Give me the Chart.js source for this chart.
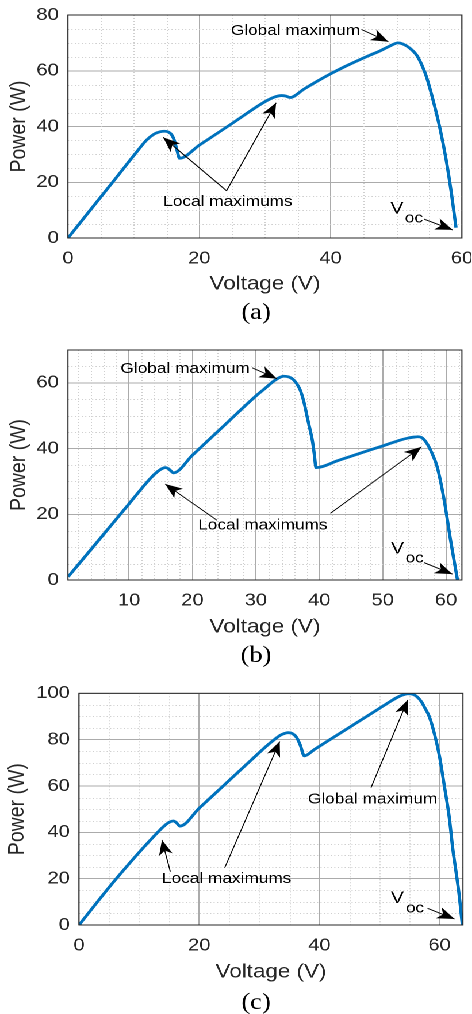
<!DOCTYPE html>
<html>
<head>
<meta charset="utf-8">
<script src="https://cdn.jsdelivr.net/npm/chart.js@4.4.1/dist/chart.umd.min.js"></script>
<style>
    html, body { margin: 0; padding: 0; background: #fff; overflow: hidden; }
    /* the source figure is stretched sideways, so draw narrow and widen */
    #page { width: 410.4px; transform: scaleX(1.15); transform-origin: 0 0; }
    .panel { position: relative; width: 100%; }
</style>
</head>
<body>
<div id="page">
    <div class="panel" style="height:338px"><canvas id="chartA"></canvas></div>
    <div class="panel" style="height:337px"><canvas id="chartB"></canvas></div>
    <div class="panel" style="height:339px"><canvas id="chartC"></canvas></div>
</div>
<script>
// P-V curves, (a) (b) (c)
const voltageA = [0, 3, 7.1, 10.4, 12, 13.2, 14, 14.7, 15.3, 15.8, 16.2, 16.6, 17.0, 20, 25, 30, 31.5, 32.5, 33.2, 33.8, 36, 38, 40, 42, 44, 46, 47.5, 48.7, 49.5, 50.2, 51, 52, 53.1, 54, 54.6, 55.6, 56.6, 57.6, 58.4, 59.1];
const powerA   = [0, 8.85, 20.9, 30.7, 35.2, 37.4, 38.1, 38.3, 38.0, 37.0, 35.0, 31.5, 28.6, 33.3, 41.1, 48.9, 50.6, 51.1, 50.9, 50.4, 53.5, 56.3, 58.9, 61.3, 63.5, 65.6, 67.1, 68.5, 69.4, 70.0, 69.6, 68.2, 65.6, 61.5, 57.8, 49.5, 39.9, 28, 16, 3.7];

const voltageB = [0.4, 5, 10, 13.5, 14.5, 15.2, 15.7, 16.2, 16.6, 17.0, 20, 25, 30, 31.5, 32.8, 33.7, 34.4, 35.2, 35.9, 36.5, 37.0, 37.6, 38.1, 38.6, 38.9, 39.2, 39.5, 43, 47.6, 50, 52.8, 54, 55.0, 55.5, 56.2, 57.0, 57.8, 58.6, 59.7, 60.7, 61.3, 61.8];
const powerB   = [1.0, 11.6, 23.2, 31.2, 33.0, 33.9, 34.2, 33.9, 33.2, 32.6, 38.0, 47.0, 56.0, 58.4, 60.5, 61.6, 62.0, 61.8, 61.0, 59.6, 57.8, 54.0, 49.6, 45.3, 42.6, 38.5, 34.2, 36.4, 39.3, 40.8, 42.6, 43.2, 43.5, 43.6, 43.3, 41.5, 38.5, 34.4, 24.3, 12.2, 5.5, 0];

const voltageC = [0, 6.2, 13.2, 14.2, 15.0, 15.7, 16.2, 16.8, 20, 24.25, 28.7, 31.5, 32.6, 33.5, 34.2, 34.8, 35.5, 36.2, 36.8, 37.5, 39.2, 45, 50, 51.7, 53, 54, 54.7, 55.5, 56.2, 57, 57.6, 58.3, 59.2, 60.0, 60.8, 61.6, 62.2, 62.8, 63.2, 63.8];
const powerC   = [0, 20, 40.3, 42.8, 44.3, 44.9, 44.2, 42.7, 50.4, 60.6, 71.3, 77.9, 80.2, 81.9, 82.7, 83.0, 82.6, 81.0, 77.8, 73.0, 75.8, 85.3, 93.5, 96.3, 98.3, 99.4, 99.8, 99.6, 98.6, 96.3, 93.5, 89.9, 82, 72.7, 60, 46.8, 33, 22, 14.4, 0];

// tick labels
const xTicksA = [0, 20, 40, 60];
const yTicksA = [0, 20, 40, 60, 80];
const xTicksB = [10, 20, 30, 40, 50, 60];
const yTicksB = [0, 20, 40, 60];
const xTicksC = [0, 20, 40, 60];
const yTicksC = [0, 20, 40, 60, 80, 100];

const CURVE = '#0072BD';
const TEXT = '#262626';
const GRID = '#ababab';
const MINOR = '#cfcfcf';
const tickFont = { family: '"Liberation Sans", Arial, sans-serif', size: 17.5 };
const titleFont = { family: '"Liberation Sans", Arial, sans-serif', size: 19.5 };
const PAGE_W = 410.4;

function arrow(ctx, x1, y1, x2, y2) {
    ctx.beginPath();
    ctx.moveTo(x1, y1);
    ctx.lineTo(x2, y2);
    ctx.stroke();
    const ang = Math.atan2(y2 - y1, x2 - x1);
    ctx.save();
    ctx.translate(x2, y2);
    ctx.rotate(ang);
    ctx.beginPath();
    ctx.moveTo(0, 0);
    ctx.lineTo(-15, -6);
    ctx.lineTo(-11, 0);
    ctx.lineTo(-15, 6);
    ctx.closePath();
    ctx.fill();
    ctx.restore();
}

// minor grid, box, annotations and the (a)/(b)/(c) caption
function decor(p) {
    return {
        id: 'decor',
        beforeDatasetsDraw(chart) {
            const { ctx, chartArea: a, scales: { x, y } } = chart;
            ctx.save();
            ctx.strokeStyle = MINOR;
            ctx.lineWidth = 1;
            ctx.setLineDash([1, 2]);
            for (let k = Math.ceil(x.min / p.xMinor); k * p.xMinor < x.max; k++) {
                const v = k * p.xMinor;
                if (v % p.xMajor === 0) continue;
                const px = Math.round(x.getPixelForValue(v)) + 0.5;
                ctx.beginPath(); ctx.moveTo(px, a.top); ctx.lineTo(px, a.bottom); ctx.stroke();
            }
            for (let k = Math.ceil(y.min / p.yMinor); k * p.yMinor < y.max; k++) {
                const v = k * p.yMinor;
                if (v % p.yMajor === 0) continue;
                const py = Math.round(y.getPixelForValue(v)) + 0.5;
                ctx.beginPath(); ctx.moveTo(a.left, py); ctx.lineTo(a.right, py); ctx.stroke();
            }
            ctx.restore();
        },
        afterDatasetsDraw(chart) {
            const { ctx, chartArea: a } = chart;
            ctx.save();
            ctx.strokeStyle = TEXT;
            ctx.lineWidth = 1;
            ctx.strokeRect(a.left, a.top, a.right - a.left, a.bottom - a.top);
            ctx.restore();
        },
        afterDraw(chart) {
            const { ctx, scales: { x, y } } = chart;
            ctx.save();
            ctx.fillStyle = '#000';
            ctx.strokeStyle = '#000';
            ctx.lineWidth = 0.9;
            ctx.textAlign = 'left';
            ctx.textBaseline = 'middle';
            ctx.font = '15px "Liberation Sans", Arial, sans-serif';
            p.notes.forEach(n => {
                ctx.fillText(n.text, x.getPixelForValue(n.x), y.getPixelForValue(n.y));
                n.arrows.forEach(r => arrow(ctx,
                    x.getPixelForValue(r[0]), y.getPixelForValue(r[1]),
                    x.getPixelForValue(r[2]), y.getPixelForValue(r[3])));
            });
            const v = p.voc;
            ctx.textBaseline = 'alphabetic';
            ctx.font = '17px "Liberation Sans", Arial, sans-serif';
            ctx.fillText('V', x.getPixelForValue(v.v[0]), y.getPixelForValue(v.v[1]));
            ctx.font = '15px "Liberation Sans", Arial, sans-serif';
            ctx.fillText('oc', x.getPixelForValue(v.oc[0]), y.getPixelForValue(v.oc[1]));
            arrow(ctx, x.getPixelForValue(v.arrow[0]), y.getPixelForValue(v.arrow[1]),
                x.getPixelForValue(v.arrow[2]), y.getPixelForValue(v.arrow[3]));

            ctx.textAlign = 'center';
            ctx.textBaseline = 'middle';
            ctx.font = '23px "Liberation Serif", "Times New Roman", serif';
            ctx.fillText(p.caption, 222.6, p.captionY);
            ctx.restore();
        }
    };
}

function buildChart(id, p) {
    return new Chart(document.getElementById(id), {
        type: 'line',
        data: {
            datasets: [{
                data: p.voltage.map((v, i) => ({ x: v, y: p.power[i] })),
                borderColor: CURVE,
                borderWidth: 2.8,
                pointRadius: 0,
                cubicInterpolationMode: 'monotone',
                fill: false
            }]
        },
        options: {
            responsive: true,
            maintainAspectRatio: false,
            animation: false,
            devicePixelRatio: 2,
            events: [],
            layout: { padding: { top: p.top, right: PAGE_W - p.right, bottom: 0, left: 0 } },
            plugins: { legend: { display: false }, tooltip: { enabled: false } },
            scales: {
                x: {
                    type: 'linear',
                    min: p.xMin,
                    max: p.xMax,
                    afterBuildTicks: s => { s.ticks = p.xTicks.map(v => ({ value: v })); },
                    afterFit: s => { s.height = p.height - p.bottom; s.paddingLeft = 0; s.paddingRight = 0; },
                    ticks: { padding: 10, color: TEXT, font: tickFont, maxRotation: 0, autoSkip: false },
                    grid: { color: GRID, lineWidth: 1, drawTicks: false },
                    border: { display: false },
                    title: { display: true, text: 'Voltage (V)', color: TEXT, font: titleFont, padding: { top: 0, bottom: p.xTitlePad } }
                },
                y: {
                    type: 'linear',
                    min: p.yMin,
                    max: p.yMax,
                    afterBuildTicks: s => { s.ticks = p.yTicks.map(v => ({ value: v })); },
                    afterFit: s => { s.width = p.left; s.paddingTop = 0; s.paddingBottom = 0; },
                    ticks: { padding: 8, color: TEXT, font: tickFont, autoSkip: false },
                    grid: { color: GRID, lineWidth: 1, drawTicks: false },
                    border: { display: false },
                    title: { display: true, text: 'Power (W)', color: TEXT, font: titleFont, padding: { top: p.yTitlePad, bottom: 0 } }
                }
            }
        },
        plugins: [decor(p)]
    });
}

buildChart('chartA', {
    voltage: voltageA, power: powerA, xTicks: xTicksA, yTicks: yTicksA,
    xMin: 0, xMax: 60, yMin: 0, yMax: 80, xMajor: 20, xMinor: 5, yMajor: 20, yMinor: 5,
    height: 338, top: 15, bottom: 238, left: 59.1, right: 401.7,
    xTitlePad: 42.3, yTitlePad: 4.8, caption: '(a)', captionY: 313,
    notes: [
        { text: 'Global maximum', x: 24.8, y: 74.3, arrows: [[44.7, 74.8, 48.8, 70.4]] },
        { text: 'Local maximums', x: 14.5, y: 13.0, arrows: [[24.15, 16.95, 14.5, 36.1], [24.15, 16.95, 31.7, 48.5]] }
    ],
    voc: { v: [49.1, 8.85], oc: [51.3, 5.5], arrow: [54.2, 6.8, 58.6, 2.9] }
});

buildChart('chartB', {
    voltage: voltageB, power: powerB, xTicks: xTicksB, yTicks: yTicksB,
    xMin: 0.37, xMax: 62.5, yMin: 0, yMax: 70, xMajor: 10, xMinor: 2, yMajor: 20, yMinor: 5,
    height: 337, top: 12, bottom: 242, left: 59.1, right: 401.7,
    xTitlePad: 36, yTitlePad: 5, caption: '(b)', captionY: 318,
    notes: [
        { text: 'Global maximum', x: 8.64, y: 64.3, arrows: [[29.4, 64.6, 33.3, 61.3]] },
        { text: 'Local maximums', x: 20.9, y: 16.7, arrows: [[23.85, 18.2, 15.7, 29.2], [41.75, 20.3, 56.1, 40.5]] }
    ],
    voc: { v: [51.3, 8.1], oc: [53.6, 5.3], arrow: [56.5, 5.3, 61.0, 1.8] }
});

buildChart('chartC', {
    voltage: voltageC, power: powerC, xTicks: xTicksC, yTicks: yTicksC,
    xMin: 0, xMax: 63.9, yMin: 0, yMax: 100, xMajor: 20, xMinor: 5, yMajor: 20, yMinor: 5,
    height: 339, top: 18.3, bottom: 250, left: 68.7, right: 402.6,
    xTitlePad: 30, yTitlePad: 3.5, caption: '(c)', captionY: 328,
    notes: [
        { text: 'Global maximum', x: 38.1, y: 54.3, arrows: [[48.6, 59.3, 54.7, 97.1]] },
        { text: 'Local maximums', x: 13.8, y: 19.9, arrows: [[15.2, 23.0, 13.8, 36.7], [24.25, 24.7, 33.4, 79.2]] }
    ],
    voc: { v: [51.9, 9.4], oc: [54.4, 5.5], arrow: [58.0, 7.2, 62.5, 2.6] }
});
</script>
</body>
</html>
